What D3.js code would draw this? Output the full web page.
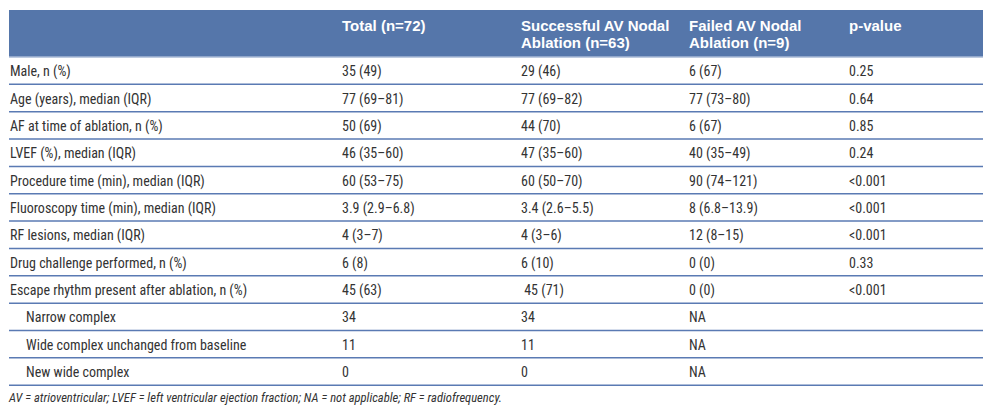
<!DOCTYPE html>
<html><head><meta charset="utf-8">
<script src="https://cdn.jsdelivr.net/npm/d3@7"></script>
<style>
html,body{margin:0;padding:0;background:#fff;}
svg text{white-space:pre;}
</style></head>
<body>
<svg id="c" width="994" height="416"></svg>
<script>
const headers = ["", "Total (n=72)", "Successful AV Nodal\nAblation (n=63)", "Failed AV Nodal\nAblation (n=9)", "p-value"];
const rowLabels = ["Male, n (%)", "Age (years), median (IQR)", "AF at time of ablation, n (%)", "LVEF (%), median (IQR)",
  "Procedure time (min), median (IQR)", "Fluoroscopy time (min), median (IQR)", "RF lesions, median (IQR)",
  "Drug challenge performed, n (%)", "Escape rhythm present after ablation, n (%)",
  "Narrow complex", "Wide complex unchanged from baseline", "New wide complex"];
const indented = [0,0,0,0,0,0,0,0,0,1,1,1];
const totalVals = ["35 (49)", "77 (69–81)", "50 (69)", "46 (35–60)", "60 (53–75)", "3.9 (2.9–6.8)", "4 (3–7)", "6 (8)", "45 (63)", "34", "11", "0"];
const successVals = ["29 (46)", "77 (69–82)", "44 (70)", "47 (35–60)", "60 (50–70)", "3.4 (2.6–5.5)", "4 (3–6)", "6 (10)", " 45 (71)", "34", "11", "0"];
const failedVals = ["6 (67)", "77 (73–80)", "6 (67)", "40 (35–49)", "90 (74–121)", "8 (6.8–13.9)", "12 (8–15)", "0 (0)", "0 (0)", "NA", "NA", "NA"];
const pValues = ["0.25", "0.64", "0.85", "0.24", "<0.001", "<0.001", "<0.001", "0.33", "<0.001", "", "", ""];
const footnote = "AV = atrioventricular; LVEF = left ventricular ejection fraction; NA = not applicable; RF = radiofrequency.";

const svg = d3.select("#c");
const left = 9, right = 983, headTop = 10, headBottom = 57, tableBottom = 385.2;
const headerColor = "#5576aa", lineColor = "#5a7ab3", textColor = "#333333";
const bodyFont = "'Liberation Sans Narrow','Arial Narrow','Roboto Condensed',sans-serif";

const cols = d3.range(5);
const x = d3.scaleOrdinal().domain(cols).range([10, 342, 521, 689, 849]);
const y = d3.scaleBand().domain(d3.range(rowLabels.length)).range([headBottom, tableBottom]);

// header
svg.append("rect").attr("x", left).attr("y", headTop).attr("width", right - left).attr("height", headBottom - headTop).attr("fill", headerColor);
svg.append("line").attr("x1", left).attr("x2", right).attr("y1", headBottom).attr("y2", headBottom)
  .attr("stroke", "#a9bad6").attr("stroke-width", 1.5);

const ht = svg.selectAll("text.h").data(headers).join("text").attr("class", "h")
  .attr("x", (d, i) => x(i)).attr("y", 31)
  .attr("fill", "#ffffff").attr("font-family", "'Liberation Sans',Arial,sans-serif").attr("font-weight", "bold").attr("font-size", 15);
ht.selectAll("tspan").data(d => d.split("\n")).join("tspan")
  .attr("x", function () { return d3.select(this.parentNode).attr("x"); })
  .attr("dy", (d, i) => i === 0 ? 0 : 17).text(d => d);

// rows
const rows = rowLabels.map((lab, i) => [lab, totalVals[i], successVals[i], failedVals[i], pValues[i]]);
const g = svg.selectAll("g.r").data(rows).join("g").attr("class", "r")
  .attr("transform", (d, i) => `translate(0,${y(i)})`);
g.append("line").attr("x1", left).attr("x2", right)
  .attr("y1", y.bandwidth()).attr("y2", y.bandwidth())
  .attr("stroke", lineColor).attr("stroke-width", 1.5);
g.selectAll("text").data((d, i) => d.map((v, j) => ({v, j, ind: indented[i]}))).join("text")
  .attr("x", d => x(d.j) + (d.j === 0 && d.ind ? 16 : 0))
  .attr("y", y.bandwidth() / 2 + 5.5)
  .attr("fill", textColor).attr("font-family", bodyFont).attr("font-size", 14)
  .text(d => d.v);

svg.append("text").attr("x", 9).attr("y", 402).attr("fill", textColor)
  .attr("font-family", bodyFont).attr("font-style", "italic").attr("font-size", 12.6).text(footnote);
</script>
</body></html>
